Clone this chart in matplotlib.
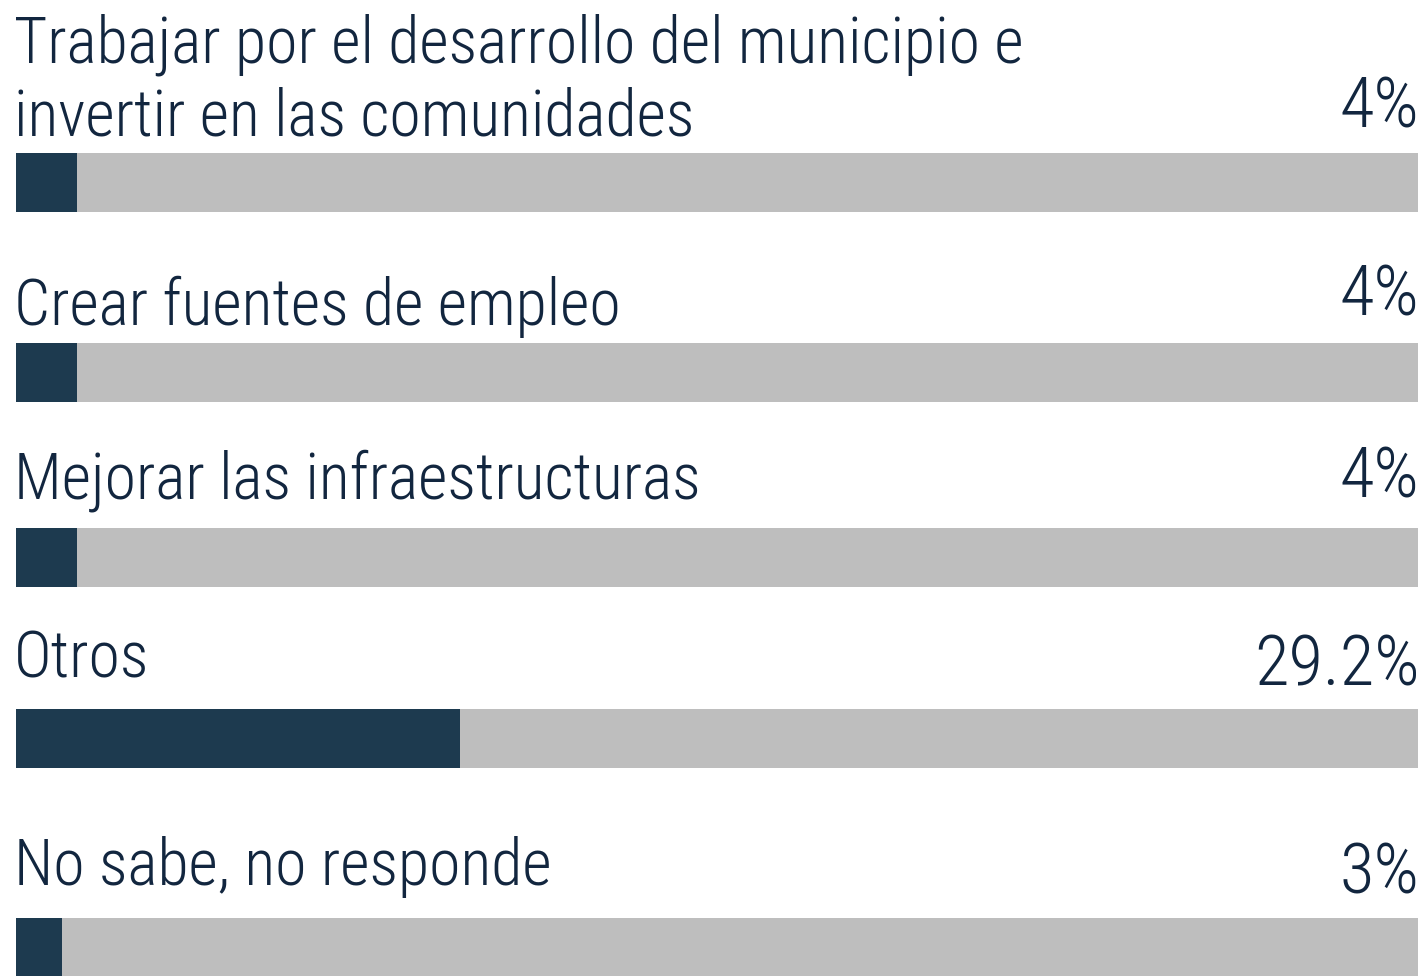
import matplotlib.pyplot as plt

labels = ["Trabajar por el desarrollo del municipio e\ninvertir en las comunidades",
          "Crear fuentes de empleo",
          "Mejorar las infraestructuras",
          "Otros",
          "No sabe, no responde"]
values = [4, 4, 4, 29.2, 3]
value_text = ["4%", "4%", "4%", "29.2%", "3%"]

# layout (pixels from top)
bar_top = [153, 343, 528, 709, 918]
label_base = [136, 325, 498, 677, 885]
pct_base = [127, 316, 498, 686, 894]
bar_h = 59

dark = "#1d3a4f"
grey = "#bebebe"
txt = "#12263f"
font = ["Roboto Condensed", "DejaVu Sans"]

W, H = 1425, 976
fig = plt.figure(figsize=(W / 100, H / 100), dpi=100)
x0, x1 = 16, 1418
ax = fig.add_axes([x0 / W, 0, (x1 - x0) / W, 1])
xmax = 92.3
ax.set_xlim(0, xmax)
ax.set_ylim(H, 0)
ax.axis("off")

for i in range(len(values)):
    ax.barh(bar_top[i] + bar_h / 2, xmax, height=bar_h, color=grey, left=0)
    ax.barh(bar_top[i] + bar_h / 2, values[i], height=bar_h, color=dark, left=0)
    ax.text(-0.12, label_base[i], labels[i], ha="left", va="baseline",
            fontsize=46, color=txt, family=font, weight=300, linespacing=1.22)
    ax.text(xmax + 0.1, pct_base[i], value_text[i], ha="right", va="baseline",
            fontsize=51, color=txt, family=font, weight=300)

fig.savefig("out.png", dpi=100)
